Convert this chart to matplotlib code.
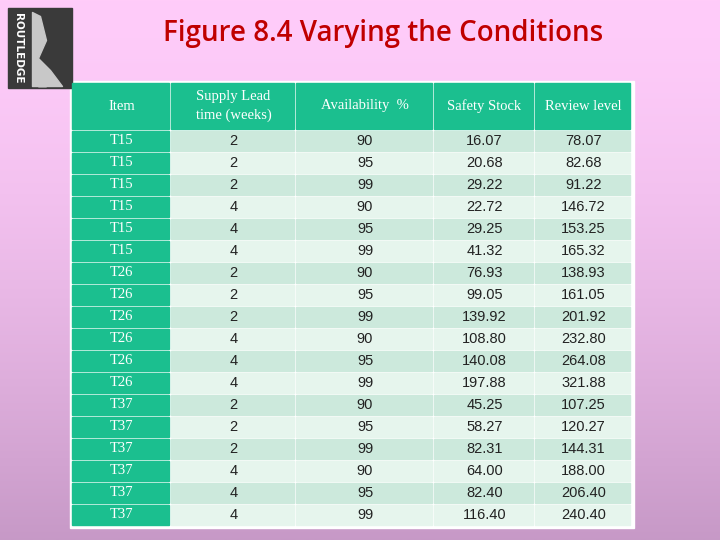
import numpy as np
import matplotlib.pyplot as plt
from matplotlib.patches import Rectangle

headers = ["Item", "Supply Lead\ntime (weeks)", "Availability  %", "Safety Stock", "Review level"]
items = ["T15"] * 6 + ["T26"] * 6 + ["T37"] * 6
lead = [2, 2, 2, 4, 4, 4] * 3
avail = [90, 95, 99] * 6
safety = ["16.07", "20.68", "29.22", "22.72", "29.25", "41.32",
          "76.93", "99.05", "139.92", "108.80", "140.08", "197.88",
          "45.25", "58.27", "82.31", "64.00", "82.40", "116.40"]
review = ["78.07", "82.68", "91.22", "146.72", "153.25", "165.32",
          "138.93", "161.05", "201.92", "232.80", "264.08", "321.88",
          "107.25", "120.27", "144.31", "188.00", "206.40", "240.40"]

fig = plt.figure(figsize=(7.2, 5.4), dpi=100)
ax = fig.add_axes([0, 0, 1, 1])
ax.set_xlim(0, 720)
ax.set_ylim(540, 0)
ax.axis("off")

# background gradient
grad = np.linspace(0, 1, 256)[:, None]
top = np.array([1.0, 0.80, 0.98])
bot = np.array([0.78, 0.60, 0.78])
img = top + (bot - top) * grad[..., None] ** 1.5
ax.imshow(img, extent=[0, 720, 540, 0], aspect="auto", zorder=0)

# logo
ax.add_patch(Rectangle((8, 8), 64, 80, color="#3a3a3a", zorder=1))
ax.text(18, 48, "ROUTLEDGE", rotation=-90, color="white", fontsize=7.5,
        fontweight="bold", ha="center", va="center", zorder=2)
ax.fill_between([32, 40, 46, 38, 50, 62], [12, 16, 40, 58, 70, 86], [86] * 6,
                color="#c8c8c8", zorder=2)

ax.text(383, 34, "Figure 8.4 Varying the Conditions", color="#c00000",
        fontsize=20, fontweight="semibold", ha="center", va="center", family="Open Sans")

cols = [72, 171, 296, 434, 535, 632]
teal = "#1bbf8f"
y0, hh, rh = 83, 46, 22
ax.add_patch(Rectangle((70, 81), 564, 447, color="white", zorder=0.5))
for i, h in enumerate(headers):
    ax.add_patch(Rectangle((cols[i], y0), cols[i + 1] - cols[i] - 2, hh, color=teal, zorder=1))
    ax.text((cols[i] + cols[i + 1]) / 2, y0 + hh / 2, h, color="white",
            fontsize=10.5, family="Liberation Serif", ha="center", va="center",
            linespacing=1.6, zorder=2)

for r in range(len(items)):
    y = y0 + hh + 2 + r * rh
    fill = "#cce9dc" if r % 2 == 0 else "#e6f5ed"
    vals = [items[r], lead[r], avail[r], safety[r], review[r]]
    for i, v in enumerate(vals):
        c = teal if i == 0 else fill
        ax.add_patch(Rectangle((cols[i], y), cols[i + 1] - cols[i] - 2, rh - 2, color=c, zorder=1))
        ax.text((cols[i] + cols[i + 1]) / 2, y + rh / 2 - 1, str(v),
                color="white" if i == 0 else "#222222",
                family="Liberation Serif" if i == 0 else "Liberation Sans",
                fontsize=10.5, ha="center", va="center", zorder=2)

fig.savefig("out.png", dpi=100)
